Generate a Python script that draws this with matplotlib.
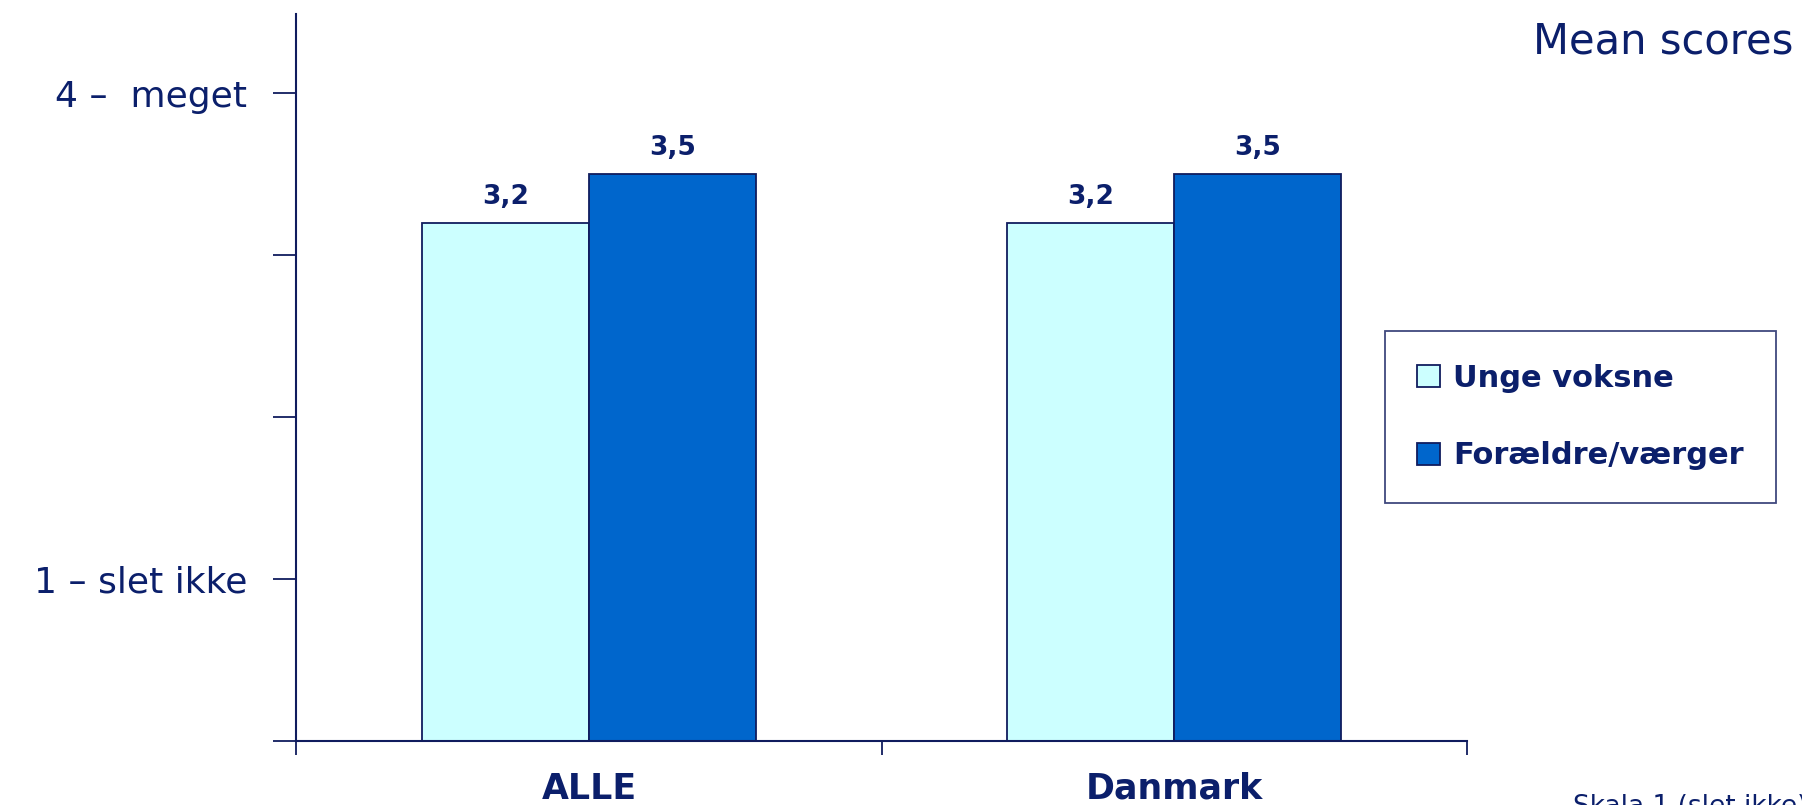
import matplotlib.pyplot as plt
import numpy as np

# data
categories = ["ALLE", "Danmark"]
series_names = ["Unge voksne", "Forældre/værger"]
unge = [3.2, 3.2]
foraeldre = [3.5, 3.5]
value_labels_unge = ["3,2", "3,2"]
value_labels_foraeldre = ["3,5", "3,5"]
ytick_vals = [0, 1, 2, 3, 4]
ytick_labels = ["", "1 – slet ikke", "", "", "4 –  meget"]

navy = "#0b1f6b"
edge = "#101c5e"
light = "#ccffff"
dark = "#0066cc"

fig = plt.figure(figsize=(18.02, 8.05), dpi=100)
ax = fig.add_axes([0.1645, 0.0795, 0.6495, 0.9035])

x = np.arange(len(categories)) + 0.5
w = 0.285
b1 = ax.bar(x - w / 2, unge, w, color=light, edgecolor=edge, linewidth=1.3, label=series_names[0])
b2 = ax.bar(x + w / 2, foraeldre, w, color=dark, edgecolor=edge, linewidth=1.3, label=series_names[1])

# value labels above bars
for bars, labs in [(b1, value_labels_unge), (b2, value_labels_foraeldre)]:
    for rect, lab in zip(bars, labs):
        ax.text(rect.get_x() + rect.get_width() / 2, rect.get_height() + 0.08, lab,
                ha="center", va="bottom", fontsize=19, fontweight="bold", color=navy)

ax.set_xlim(0, 2)
ax.set_ylim(0, 4.49)

ax.set_yticks(ytick_vals)
ax.set_yticklabels(ytick_labels, fontsize=26, color=navy)
ax.tick_params(axis="y", direction="out", length=16.5, width=1.3, color=edge, pad=19)

ax.set_xticks([0, 1, 2])
ax.set_xticklabels([])
ax.set_xticks(x, minor=True)
ax.set_xticklabels(categories, minor=True, fontsize=25, fontweight="bold", color=navy)
ax.tick_params(axis="x", which="major", direction="out", length=10, width=1.3, color=edge)
ax.tick_params(axis="x", which="minor", length=0, pad=22)

for s in ["top", "right"]:
    ax.spines[s].set_visible(False)
for s in ["left", "bottom"]:
    ax.spines[s].set_color(edge)
    ax.spines[s].set_linewidth(1.5)

fig.text(0.995, 0.948, "Mean scores", ha="right", va="center", fontsize=30, color=navy)

leg = fig.legend(loc="center", bbox_to_anchor=(0.877, 0.482), fontsize=22, frameon=True,
                 fancybox=False, labelspacing=1.6, handlelength=0.75, handleheight=0.75,
                 handletextpad=0.42, borderpad=1.05, borderaxespad=0)
leg.get_frame().set_edgecolor(edge)
leg.get_frame().set_linewidth(1.3)
for t in leg.get_texts():
    t.set_color(navy)
    t.set_fontweight("bold")

fig.text(0.873, 0.014, "Skala 1 (slet ikke) – 4 (meget)", ha="left", va="top", fontsize=19, color=navy)

fig.savefig("out.png", dpi=100)
